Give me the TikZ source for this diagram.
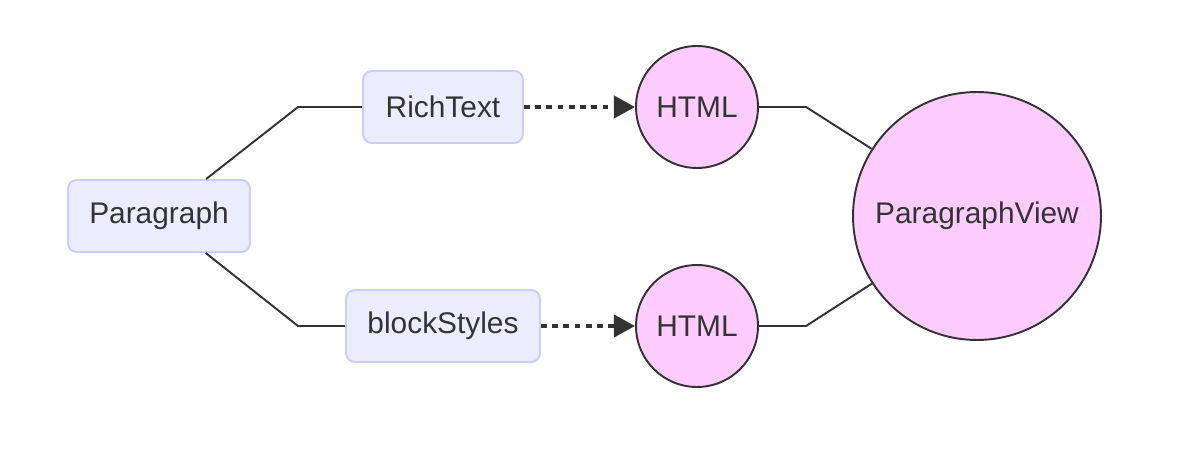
\documentclass[tikz,border=0pt]{standalone}
\usepackage{fontspec}
\setmainfont{Liberation Sans}
\usepackage{tikz}
\usetikzlibrary{arrows.meta,positioning,calc}
\definecolor{boxfill}{HTML}{ECECFF}
\definecolor{boxline}{HTML}{CCCCFF}
\definecolor{htmlfill}{HTML}{FFCCFF}
\definecolor{ink}{HTML}{333333}

\begin{document}
\begin{tikzpicture}[x=0.02cm, y=-0.02cm,
        every node/.style={font=\fontsize{17}{20}\selectfont, text=ink},
        blockbox/.style={draw=boxline, fill=boxfill, line width=1.1pt, rounded corners=5pt,
            minimum height=1.44cm, inner sep=0pt},
        viewcircle/.style={circle, draw=ink, fill=htmlfill, line width=1.1pt, inner sep=0pt},
        link/.style={draw=ink, line width=1.1pt},
        render/.style={draw=ink, line width=2.3pt, dash pattern=on 3.2pt off 3.2pt,
            -{Triangle[length=12pt, width=12.5pt]}}]
        \useasboundingbox (0,0) rectangle (1200,472);
        \node[blockbox, minimum width=3.64cm] (para) at (159,216) {Paragraph};
        \node[blockbox, minimum width=3.2cm] (rich) at (443,107) {RichText};
        \node[blockbox, minimum width=3.88cm] (block) at (443,326) {blockStyles};
        \node[viewcircle, minimum size=2.44cm] (htmlA) at (697,107) {HTML};
        \node[viewcircle, minimum size=2.44cm] (htmlB) at (697,326) {HTML};
        \node[viewcircle, minimum size=4.96cm] (pview) at (977,216) {ParagraphView};
        \coordinate (bendA) at (298,107);
        \coordinate (bendB) at (298,326);
        \coordinate (bendC) at (806,107);
        \coordinate (bendD) at (806,326);
        % paragraph splits into its two parts
        \draw[link] (para) -- (bendA) -- (rich);
        \draw[link] (para) -- (bendB) -- (block);
        % each part renders to html
        \draw[render] (rich) -- (htmlA);
        \draw[render] (block) -- (htmlB);
        \draw[link] (htmlA) -- (bendC) -- (pview);
        \draw[link] (htmlB) -- (bendD) -- (pview);
    \end{tikzpicture}
\end{document}
